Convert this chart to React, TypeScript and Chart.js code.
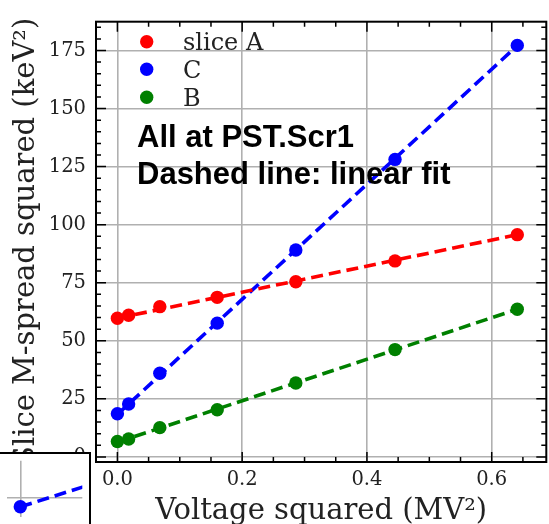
import React, { useEffect, useRef } from 'react';
import { Chart, registerables } from 'chart.js';

Chart.register(...registerables);

// ---- data ----
const voltageSq = [0, 0.018, 0.068, 0.16, 0.286, 0.445, 0.641];
const sliceA = [59.7, 61.0, 64.7, 68.7, 75.4, 84.4, 95.7];
const sliceC = [18.6, 22.8, 36.0, 57.6, 89.1, 128.1, 177.2];
const sliceB = [6.6, 7.7, 12.6, 20.3, 31.8, 46.2, 63.6];

const fitX = [0, 0.641];
const fitA = [59.7, 95.7];
const fitC = [18.3, 177.1];
const fitB = [6.3, 63.6];

const xTicks = [0, 0.2, 0.4, 0.6];
const xTickLabels = ['0.0', '0.2', '0.4', '0.6'];
const yTicks = [0, 25, 50, 75, 100, 125, 150, 175];
const yTickLabels = ['0', '25', '50', '75', '100', '125', '150', '175'];

const legendLabels = ['slice A', 'C', 'B'];
const seriesColors = ['#ff0000', '#0000ff', '#008000'];
const annotationLines = ['All at PST.Scr1', 'Dashed line: linear fit'];
const xTitle = 'Voltage squared (MV²)';
const yTitle = 'Slice M-spread squared (keV²)';

// fragment of an overlapping inset (bottom-left)
const insetX = [0, 0.25];
const insetY = [-1.1, 1.86];
const insetGridX = [0];
const insetGridY = [0];

const SERIF = "'DejaVu Serif', serif";
const TEXT = '#222222';
const GRID = '#b0b0b0';

const mplAxes = {
  id: 'mplAxes',
  afterDatasetsDraw(chart: any) {
    const { ctx, chartArea: a, scales } = chart;
    const x = scales.x;
    const y = scales.y;
    ctx.save();
    // annotation text
    ctx.fillStyle = '#000';
    ctx.font = "bold 31px 'Liberation Sans', Arial, sans-serif";
    ctx.textAlign = 'left';
    ctx.textBaseline = 'alphabetic';
    ctx.fillText(annotationLines[0], 137, 147);
    ctx.fillText(annotationLines[1], 137, 183.5);

    // legend
    const ly = [41.7, 69.3, 97.3];
    ctx.font = `24px ${SERIF}`;
    legendLabels.forEach((lab, i) => {
      ctx.fillStyle = seriesColors[i];
      ctx.beginPath();
      ctx.arc(146.7, ly[i], 6.7, 0, Math.PI * 2);
      ctx.fill();
      ctx.fillStyle = TEXT;
      ctx.fillText(lab, 183, ly[i] + 8.5);
    });

    // ticks (inward, all four sides)
    ctx.strokeStyle = '#000';
    ctx.lineWidth = 1.5;
    ctx.beginPath();
    for (let k = -2; k <= 20; k++) {
      const v = k * 0.05;
      if (v < x.min || v > x.max) continue;
      const px = x.getPixelForValue(v);
      const len = k % 4 === 0 ? 10 : 5;
      ctx.moveTo(px, a.bottom);
      ctx.lineTo(px, a.bottom - len);
      ctx.moveTo(px, a.top);
      ctx.lineTo(px, a.top + len);
    }
    for (let k = -2; k <= 40; k++) {
      const v = k * 5;
      if (v < y.min || v > y.max) continue;
      const py = y.getPixelForValue(v);
      const len = k % 5 === 0 ? 10 : 5;
      ctx.moveTo(a.left, py);
      ctx.lineTo(a.left + len, py);
      ctx.moveTo(a.right, py);
      ctx.lineTo(a.right - len, py);
    }
    ctx.stroke();

    // spines
    ctx.lineWidth = 2;
    ctx.strokeRect(a.left, a.top, a.right - a.left, a.bottom - a.top);
    ctx.restore();
  },
};

export default function App() {
  const mainRef = useRef<HTMLCanvasElement>(null);
  const insetRef = useRef<HTMLCanvasElement>(null);

  useEffect(() => {
    const series = [sliceA, sliceC, sliceB];
    const fits = [fitA, fitC, fitB];
    const datasets: any[] = [];
    series.forEach((vals, i) => {
      datasets.push({
        type: 'scatter',
        label: legendLabels[i],
        data: voltageSq.map((xv, j) => ({ x: xv, y: vals[j] })),
        backgroundColor: seriesColors[i],
        borderWidth: 0,
        pointRadius: 6.7,
        pointHoverRadius: 6.7,
        showLine: false,
        order: 2,
      });
    });
    fits.forEach((vals, i) => {
      datasets.push({
        type: 'line',
        label: legendLabels[i] + ' fit',
        data: fitX.map((xv, j) => ({ x: xv, y: vals[j] })),
        borderColor: seriesColors[i],
        borderWidth: 3.6,
        borderDash: [12, 6],
        pointRadius: 0,
        fill: false,
        tension: 0,
        order: 1,
      });
    });

    const main = new Chart(mainRef.current as HTMLCanvasElement, {
      type: 'scatter',
      data: { datasets },
      options: {
        responsive: false,
        animation: false,
        devicePixelRatio: 1,
        layout: { padding: { top: 9, right: 1, left: 0, bottom: 0 } },
        plugins: { legend: { display: false }, tooltip: { enabled: false } },
        scales: {
          x: {
            type: 'linear',
            min: -0.0343,
            max: 0.6875,
            afterBuildTicks: (s: any) => {
              s.ticks = xTicks.map((v) => ({ value: v }));
            },
            afterFit: (s: any) => {
              s.height = 62;
            },
            grid: { color: GRID, lineWidth: 1.6, drawTicks: false },
            border: { display: false },
            ticks: {
              padding: 6,
              color: TEXT,
              autoSkip: false,
              maxRotation: 0,
              font: { family: SERIF, size: 19.5 },
              callback: (_v: any, i: number) => xTickLabels[i],
            },
            title: {
              display: true,
              text: xTitle,
              color: TEXT,
              font: { family: SERIF, size: 29, lineHeight: 1 },
              padding: { top: 0, bottom: -2 },
            },
          },
          y: {
            type: 'linear',
            min: -2.2,
            max: 187.4,
            afterBuildTicks: (s: any) => {
              s.ticks = yTicks.map((v) => ({ value: v }));
            },
            afterFit: (s: any) => {
              s.width = 96;
            },
            grid: { color: GRID, lineWidth: 1.6, drawTicks: false },
            border: { display: false },
            ticks: {
              padding: 10,
              color: TEXT,
              autoSkip: false,
              font: { family: SERIF, size: 19.5 },
              callback: (_v: any, i: number) => yTickLabels[i],
            },
            title: {
              display: true,
              text: yTitle,
              color: TEXT,
              font: { family: SERIF, size: 29, lineHeight: 1 },
              padding: { top: 12, bottom: 0 },
            },
          },
        },
      } as any,
      plugins: [mplAxes],
    });

    const inset = new Chart(insetRef.current as HTMLCanvasElement, {
      type: 'scatter',
      data: {
        datasets: [
          {
            type: 'line',
            data: insetX.map((xv, j) => ({ x: xv, y: insetY[j] })),
            borderColor: '#0000ff',
            borderWidth: 3.6,
            borderDash: [12, 6],
            pointRadius: [6.7, 0],
            pointBackgroundColor: '#0000ff',
            pointBorderWidth: 0,
            fill: false,
            tension: 0,
          } as any,
        ],
      },
      options: {
        responsive: false,
        animation: false,
        devicePixelRatio: 1,
        layout: { padding: 0 },
        plugins: { legend: { display: false }, tooltip: { enabled: false } },
        scales: {
          x: {
            type: 'linear',
            min: -0.045,
            max: 0.205,
            afterBuildTicks: (s: any) => {
              s.ticks = insetGridX.map((v) => ({ value: v }));
            },
            afterFit: (s: any) => {
              s.height = 0;
            },
            grid: { color: GRID, lineWidth: 1.6, drawTicks: false },
            border: { display: false },
            ticks: { display: false },
          },
          y: {
            type: 'linear',
            min: -2.4,
            max: 4.6,
            afterBuildTicks: (s: any) => {
              s.ticks = insetGridY.map((v) => ({ value: v }));
            },
            afterFit: (s: any) => {
              s.width = 0;
            },
            grid: { color: GRID, lineWidth: 1.6, drawTicks: false },
            border: { display: false },
            ticks: { display: false },
          },
        },
      } as any,
    });

    return () => {
      main.destroy();
      inset.destroy();
    };
  }, []);

  return (
    <div
      style={{
        position: 'fixed',
        left: 0,
        top: 0,
        width: 549,
        height: 524,
        overflow: 'hidden',
        background: '#fff',
      }}
    >
      <canvas
        ref={mainRef}
        width={553}
        height={524}
        style={{ position: 'absolute', left: 0, top: 0, width: 553, height: 524 }}
      />
      <div
        style={{
          position: 'absolute',
          left: 0,
          top: 452,
          width: 89,
          height: 70,
          borderTop: '2px solid #000',
          borderRight: '2px solid #000',
          background: '#fff',
          overflow: 'hidden',
        }}
      >
        <canvas ref={insetRef} width={89} height={70} style={{ display: 'block', width: 89, height: 70 }} />
      </div>
    </div>
  );
}
